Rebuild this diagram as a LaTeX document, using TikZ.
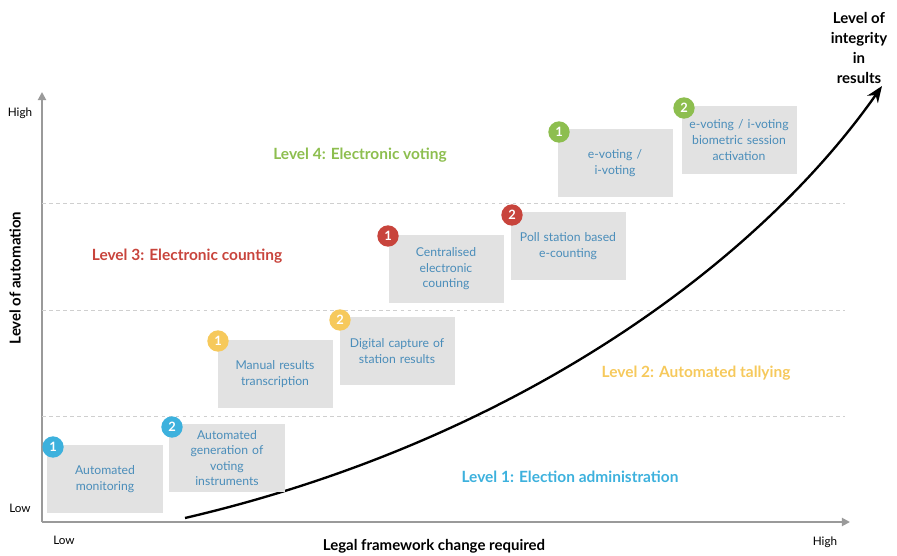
\documentclass[tikz,border=0pt]{standalone}
\usepackage{fontspec}
\setmainfont{Lato}
\usetikzlibrary{arrows.meta}

\definecolor{lvlgreen}{HTML}{8DBE4F}
\definecolor{lvlred}{HTML}{C8443C}
\definecolor{lvlyellow}{HTML}{F6C95C}
\definecolor{lvlblue}{HTML}{3DB1DD}
\definecolor{boxtext}{HTML}{4A8DBA}
\definecolor{boxfill}{HTML}{E2E2E2}
\definecolor{axisgray}{HTML}{9A9A9A}
\definecolor{dashgray}{HTML}{CFCFCF}

\tikzset{
  stage/.style={fill=boxfill, text=boxtext, minimum width=3.45cm, minimum height=2.04cm,
    text width=3.35cm, align=center, inner sep=0pt, font=\fontsize{10.4}{13.3}\selectfont},
  badge/.style={circle, fill=#1, text=white, minimum size=0.64cm, inner sep=0pt,
    font=\bfseries\fontsize{11}{11}\selectfont},
  level/.style={text=#1, font=\bfseries\fontsize{13.2}{15}\selectfont},
  tick/.style={font=\fontsize{10}{12}\selectfont},
  axtitle/.style={font=\bfseries\fontsize{12.8}{17}\selectfont, align=center},
  band/.style={dashgray, dashed, line width=0.6pt},
}

\begin{document}
\begin{tikzpicture}[x=0.03cm, y=-0.03cm]
  \useasboundingbox (0,0) rectangle (897,555);

  % axes
  \coordinate (O) at (42,522);
  \coordinate (Ytop) at (42,92);
  \coordinate (Xend) at (850,522);
  \draw[axisgray, line width=1.6pt, -{Triangle[length=7pt, width=7pt]}] (O) -- (Ytop);
  \draw[axisgray, line width=1.6pt, -{Triangle[length=7pt, width=7pt]}] (O) -- (Xend);

  % level bands
  \draw[band] (42,203) -- (845,203);
  \draw[band] (42,310) -- (845,310);
  \draw[band] (42,416) -- (845,416);

  \node[tick] (yhigh) at (20,113) {High};
  \node[tick] (ylow) at (20,508) {Low};
  \node[tick] (xlow) at (64,540) {Low};
  \node[tick] (xhigh) at (825,542) {High};
  \node[axtitle] (xtitle) at (434,546) {Legal framework change required};
  \node[axtitle, rotate=90] (ytitle) at (15,278) {Level of automation};
  \node[axtitle] (ztitle) at (859,48) {Level of\\integrity\\in\\results};

  \node[level=lvlgreen] (lvl4) at (360,155) {Level 4: Electronic voting};
  \node[level=lvlred] (lvl3) at (187,256) {Level 3: Electronic counting};
  \node[level=lvlyellow] (lvl2) at (696,373) {Level 2: Automated tallying};
  \node[level=lvlblue] (lvl1) at (570,477) {Level 1: Election administration};

  % growth curve
  \coordinate (cstart) at (185,518);
  \coordinate (cend) at (882,86);
  \draw[line width=2pt, -{Stealth[length=14pt, width=11pt]}]
    (cstart) .. controls (520,440) and (760,260) .. (cend);

  % stages
  \node[stage] (monit) at (105,479) {Automated\\monitoring};
  \node[stage] (gener) at (227,458) {Automated\\generation of\\voting\\instruments};
  \node[stage] (manual) at (275,374) {Manual results\\transcription};
  \node[stage] (digit) at (397,351) {Digital capture of\\station results};
  \node[stage] (central) at (446,269) {Centralised\\electronic\\counting};
  \node[stage] (poll) at (568,246) {Poll station based\\e-counting};
  \node[stage] (evote) at (615,163) {e-voting /\\i-voting};
  \node[stage] (biom) at (739,140) {e-voting / i-voting\\biometric session\\activation};

  \node[badge=lvlblue] (b1) at (53,447) {1};
  \node[badge=lvlblue] (b2) at (172,427) {2};
  \node[badge=lvlyellow] (b3) at (218,341) {1};
  \node[badge=lvlyellow] (b4) at (340,320) {2};
  \node[badge=lvlred] (b5) at (388,236) {1};
  \node[badge=lvlred] (b6) at (512,215) {2};
  \node[badge=lvlgreen] (b7) at (559,132) {1};
  \node[badge=lvlgreen] (b8) at (684,108) {2};
\end{tikzpicture}
\end{document}
